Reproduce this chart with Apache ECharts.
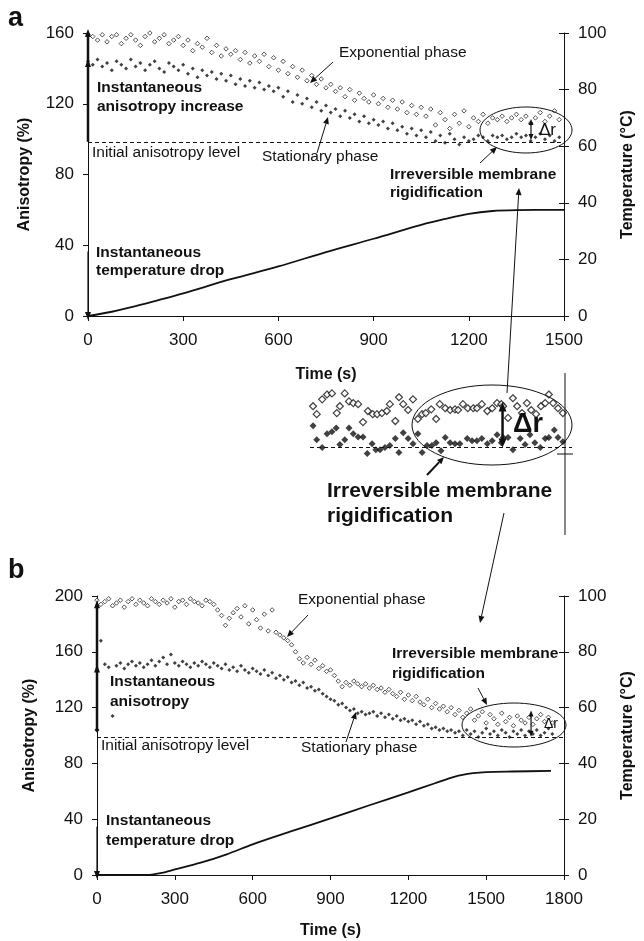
<!DOCTYPE html>
<html>
<head>
<meta charset="utf-8">
<script src="https://cdn.jsdelivr.net/npm/echarts@6/dist/echarts.min.js"></script>
<style>
  html, body { margin: 0; padding: 0; background: #fff; }
  #main { width: 644px; height: 941px; }
</style>
</head>
<body>
<div id="main"></div>
<script>
var main = echarts.init(document.getElementById('main'));
var FONT = '"Liberation Sans", Arial, sans-serif';
var INK = '#111';

// sampling of the anisotropy records (s)
var stepA = 15;
var stepB = 15;

// panel a : anisotropy (%), open = exponential phase, filled = stationary phase
var openA = [159, 158, 156, 159, 155, 158, 159, 154, 157, 159, 156, 153, 158, 160, 155, 157, 159, 154, 156, 158, 153,
	156, 150, 154, 152, 157, 149, 153, 147, 151, 148,
	150, 145, 149, 143, 147, 144, 148, 141, 146, 139,
	144, 137, 141, 135, 139, 133, 136, 131, 134, 129,
	131, 127, 129, 124, 128, 122, 126, 123, 121, 125,
	120, 123, 118, 122, 117, 121, 115, 119, 114, 118,
	113, 117, 108, 115, 111, 106, 114, 109, 116, 107,
	112, 110, 114, 109, 112, 111, 113, 110, 112, 114,
	111, 113, 109, 112, 115, 110, 113, 116, 111];
var filledA = [144, 142, 145, 141, 143, 139, 144, 142, 140, 145, 141, 143, 139, 142, 144, 140, 138, 143, 141, 139, 142,
	137, 140, 135, 139, 136, 138, 134, 137, 133, 136,
	131, 134, 130, 133, 129, 132, 128, 130, 127, 129,
	124, 127, 121, 125, 120, 123, 118, 121, 116, 119,
	115, 117, 113, 116, 112, 114, 110, 113, 109, 111,
	108, 110, 106, 109, 105, 107, 103, 106, 102, 105,
	101, 104, 99, 102, 98, 103, 100, 97, 101, 99,
	100, 102, 101, 99, 102, 101, 102, 100, 101, 103,
	101, 102, 99, 101, 103, 100, 102, 99, 101];

// panel a : temperature (°C)
var tempTimeA = [0, 75, 150, 225, 300, 450, 600, 750, 900, 1050, 1125, 1200, 1275, 1350, 1500];
var tempA = [0, 1.5, 3.5, 5.7, 8, 13, 17.5, 22.6, 27.3, 32.2, 34.3, 36.1, 37.1, 37.4, 37.5];

// panel b : anisotropy (%)
var openB = [197, 194, 196, 198, 193, 195, 197, 192, 196, 198, 194, 197, 195, 193, 198, 196, 194, 197, 195, 198,
	192, 196, 197, 194, 198, 196, 195, 193, 197, 196, 194,
	190, 186, 179, 184, 188, 191, 185, 193, 180, 190,
	183, 177, 187, 175, 190, 174, 172, 170, 168, 165,
	160, 155, 152, 156, 151, 154, 148, 150, 146, 147,
	143, 139, 135, 138, 136, 139, 137, 135, 137, 134,
	136, 133, 134, 131, 133, 130, 128, 131, 126, 129,
	125, 128, 124, 122, 126, 120, 123, 119, 121, 117,
	120, 115, 118, 113, 116, 119, 111, 114, 117, 109,
	115, 112, 108, 116, 110, 113, 107, 114, 111, 109,
	113, 108, 112, 115, 110, 113, 109];
var filledBStart = 15;
var filledB = [168, 151, 149, 114, 150, 152, 148, 151, 153, 150, 152, 149, 151, 154, 150, 153, 156, 151, 158, 152,
	150, 153, 151, 149, 152, 150, 153, 151, 149, 152,
	150, 148, 151, 147, 149, 146, 150, 147, 145, 148,
	146, 144, 147, 143, 145, 141, 143, 140, 142, 138,
	139, 136, 138, 134, 135, 132, 133, 130, 128, 126,
	125, 122, 123, 120, 118, 119, 116, 117, 115, 116,
	117, 114, 116, 113, 115, 112, 114, 111, 112, 110,
	111, 108, 110, 107, 108, 105, 106, 104, 105, 103,
	104, 102, 103, 100, 104, 101, 103, 99, 102, 105,
	101, 103, 100, 104, 102, 99, 103, 101, 104, 100,
	103, 101, 104, 100, 102, 105, 101];

// panel b : temperature (°C)
var tempTimeB = [0, 100, 190, 250, 300, 400, 500, 600, 750, 900, 1050, 1200, 1300, 1380, 1450, 1500, 1600, 1750];
var tempB = [0, 0, 0, 0.8, 2, 4.4, 7.4, 11, 15.7, 20.3, 25, 29.6, 32.8, 35.3, 36.5, 36.9, 37.1, 37.3];

// enlarged detail of the rigidification zone
var insetOpenT = [1075, 1081, 1090, 1098, 1106, 1114, 1119, 1127, 1134, 1141, 1149, 1157, 1165, 1173, 1180, 1188, 1196, 1201, 1210, 1216,
	1223, 1231, 1239, 1247, 1254, 1260, 1269, 1277, 1283, 1292, 1300, 1308, 1313, 1321, 1329, 1338, 1344, 1352, 1361, 1369,
	1377, 1384, 1387, 1395, 1403, 1410, 1418, 1426, 1433, 1441, 1449, 1456, 1462, 1469, 1477, 1485];
var insetOpen = [111, 108.7, 113, 114.4, 114.7, 109, 111, 114.7, 112.4, 111.9, 111.6, 106.4, 109.6, 108.7, 108.7, 109, 109.6, 111.6, 106.7, 113.6,
	111.6, 109.9, 113, 107.3, 108.7, 109, 110.1, 107.3, 111.6, 110.4, 109.9, 110.1, 109.9, 111.6, 110.4, 110.4, 110.4, 111.6, 109.6, 110.4,
	111.9, 111.6, 111, 107.6, 113.3, 111, 109, 111.9, 109.9, 108.7, 111, 111.9, 114.4, 111.9, 110.4, 109];
var insetFilledT = [1075, 1081, 1090, 1098, 1106, 1113, 1119, 1127, 1134, 1141, 1149, 1157, 1164, 1172, 1178, 1185, 1193, 1201, 1210, 1216,
	1223, 1231, 1239, 1247, 1254, 1262, 1270, 1277, 1285, 1292, 1300, 1308, 1316, 1328, 1336, 1344, 1352, 1361, 1369, 1377,
	1384, 1387, 1395, 1403, 1415, 1423, 1431, 1439, 1448, 1456, 1462, 1471, 1477, 1485];
var insetFilled = [105.3, 101.3, 99, 103, 103.6, 104.7, 99.9, 101.3, 104.7, 103, 102.1, 102.1, 97.3, 100.1, 98.4, 98.4, 99, 99.6, 101.6, 97.6,
	103.3, 101.6, 100.1, 103, 97.6, 99.6, 99.6, 100.4, 98.1, 101.9, 100.4, 100.1, 100.1, 101.6, 101, 101, 101.6, 100.1, 101, 102.7,
	100.4, 101.9, 101.9, 98.4, 101.6, 99.9, 102.7, 100.4, 99, 101.6, 101.9, 104.1, 101.9, 100.7];

var levelA = 98.5;
var levelB = 99;
var levelInset = 99;

function series(start, step, vals) {
	return vals.map(function (v, i) { return [start + i * step, v]; });
}
function zip(xs, ys) {
	return xs.map(function (x, i) { return [x, ys[i]]; });
}

var openStyle = { color: '#fff', borderColor: INK, borderWidth: 0.9 };
var fillStyle = { color: INK };
var dashed = function (y) {
	return {
		silent: true, symbol: 'none', label: { show: false },
		lineStyle: { type: [4, 3], color: INK, width: 1 },
		data: [{ yAxis: y }]
	};
};

// vertical arrow drawn with symbols on a line series
function arrowLine(xi, yi, pts, width) {
	return {
		type: 'line', xAxisIndex: xi, yAxisIndex: yi, symbol: 'none',
		lineStyle: { color: INK, width: width }, itemStyle: { color: INK },
		data: pts, z: 5
	};
}
function head(p, rot, size) {
	return { value: p, symbol: 'triangle', symbolRotate: rot || 0, symbolSize: size || [6, 8] };
}

var plain = function (v) { return String(v); };

function xAx(grid, max, gap) {
	return {
		gridIndex: grid, type: 'value', min: 0, max: max, interval: 300,
		axisLine: { onZero: false, lineStyle: { color: INK, width: 1 } },
		axisTick: { length: 5, lineStyle: { color: INK } },
		axisLabel: { fontSize: 17, color: INK, margin: 16, fontFamily: FONT, formatter: plain },
		splitLine: { show: false },
		name: 'Time (s)', nameLocation: 'middle', nameGap: gap,
		nameTextStyle: { fontWeight: 'bold', fontSize: 16, color: INK, fontFamily: FONT }
	};
}
function yAx(grid, pos, max, interval, name, gap) {
	return {
		gridIndex: grid, type: 'value', position: pos, min: 0, max: max, interval: interval,
		axisLine: { show: true, lineStyle: { color: INK, width: 1 } },
		axisTick: { show: true, length: 5, lineStyle: { color: INK } },
		axisLabel: { fontSize: 17, color: INK, margin: 14, fontFamily: FONT, formatter: plain },
		splitLine: { show: false },
		name: name, nameLocation: 'middle', nameRotate: 90, nameGap: gap,
		nameTextStyle: { fontWeight: 'bold', fontSize: 16, color: INK, fontFamily: FONT }
	};
}
function yInner(grid) {
	return {
		gridIndex: grid, type: 'value', position: 'right', min: 0, max: 100, interval: 20,
		axisLine: { show: false }, axisLabel: { show: false }, splitLine: { show: false },
		axisTick: { show: true, inside: true, length: 5, lineStyle: { color: INK } }
	};
}

// annotation helpers (pixel positions)
function arrow(x1, y1, x2, y2, w) {
	var ang = Math.atan2(y2 - y1, x2 - x1), len = 7, half = 3;
	var bx = x2 - len * Math.cos(ang), by = y2 - len * Math.sin(ang);
	var px = -Math.sin(ang) * half, py = Math.cos(ang) * half;
	return [
		{ type: 'line', z: 100, shape: { x1: x1, y1: y1, x2: bx, y2: by }, style: { stroke: INK, lineWidth: w || 1 } },
		{ type: 'polygon', z: 100, shape: { points: [[x2, y2], [bx + px, by + py], [bx - px, by - py]] }, style: { fill: INK } }
	];
}
function txt(x, y, s, font, lh) {
	return {
		type: 'text', z: 100, x: x, y: y,
		style: { text: s, font: font + ' ' + FONT, fill: INK, align: 'left', verticalAlign: 'middle', lineHeight: lh || 18 }
	};
}
function ell(cx, cy, rx, ry) {
	return { type: 'ellipse', z: 100, shape: { cx: cx, cy: cy, rx: rx, ry: ry }, style: { fill: 'none', stroke: INK, lineWidth: 1 } };
}

var graphics = [
	txt(8, 19, 'a', 'bold 27px'),
	txt(8, 571, 'b', 'bold 27px'),
	// panel a
	{ type: 'text', z: 100, x: 97, y: 78, style: { text: 'Instantaneous\nanisotropy increase', font: 'bold 15.5px ' + FONT, fill: INK, lineHeight: 19, verticalAlign: 'top' } },
	txt(92, 153, 'Initial anisotropy level', '15.5px'),
	txt(339, 53, 'Exponential phase', '15.5px'),
	txt(262, 157, 'Stationary phase', '15.5px'),
	{ type: 'text', z: 100, x: 390, y: 166, style: { text: 'Irreversible membrane\nrigidification', font: 'bold 15.5px ' + FONT, fill: INK, lineHeight: 18, verticalAlign: 'top' } },
	{ type: 'text', z: 100, x: 96, y: 244, style: { text: 'Instantaneous\ntemperature drop', font: 'bold 15.5px ' + FONT, fill: INK, lineHeight: 18, verticalAlign: 'top' } },
	txt(539, 130, 'Δr', '17px'),
	ell(526, 130, 46, 23),
	// inset
	txt(513, 425, 'Δr', 'bold 27px'),
	ell(492, 425, 80, 40),
	{ type: 'text', z: 100, x: 327, y: 479, style: { text: 'Irreversible membrane\nrigidification', font: 'bold 21px ' + FONT, fill: INK, lineHeight: 25, verticalAlign: 'top' } },
	{ type: 'line', z: 100, shape: { x1: 565, y1: 373, x2: 565, y2: 535 }, style: { stroke: INK, lineWidth: 1 } },
	{ type: 'line', z: 100, shape: { x1: 557, y1: 454, x2: 573, y2: 454 }, style: { stroke: INK, lineWidth: 1 } },
	// panel b
	txt(298, 600, 'Exponential phase', '15.5px'),
	{ type: 'text', z: 100, x: 110, y: 672, style: { text: 'Instantaneous\nanisotropy', font: 'bold 15.5px ' + FONT, fill: INK, lineHeight: 20, verticalAlign: 'top' } },
	txt(101, 746, 'Initial anisotropy level', '15.5px'),
	txt(301, 748, 'Stationary phase', '15.5px'),
	{ type: 'text', z: 100, x: 392, y: 644, style: { text: 'Irreversible membrane\nrigidification', font: 'bold 15.5px ' + FONT, fill: INK, lineHeight: 20, verticalAlign: 'top' } },
	{ type: 'text', z: 100, x: 106, y: 811, style: { text: 'Instantaneous\ntemperature drop', font: 'bold 15.5px ' + FONT, fill: INK, lineHeight: 20, verticalAlign: 'top' } },
	txt(544, 724, 'Δr', '14px'),
	ell(514, 725, 52, 22)
];
graphics = graphics
	.concat(arrow(333, 62, 310, 83))
	.concat(arrow(317, 153, 328, 117))
	.concat(arrow(480, 163, 497, 147))
	.concat(arrow(507, 393, 519, 188))
	.concat(arrow(504, 513, 480, 623))
	.concat(arrow(427, 475, 444, 457, 2))
	.concat(arrow(308, 615, 287, 637))
	.concat(arrow(346, 742, 356, 712))
	.concat(arrow(478, 688, 487, 705));

option = {
	animation: false,
	backgroundColor: '#fff',
	textStyle: { fontFamily: FONT },
	grid: [
		{ left: 88, top: 33, width: 476, height: 283 },
		{ left: 97, top: 596, width: 473, height: 279 },
		{ left: 310, top: 370, width: 262, height: 100 }
	],
	xAxis: [
		xAx(0, 1500, 51),
		xAx(1, 1800, 48),
		{ gridIndex: 2, type: 'value', min: 1070, max: 1500, show: false }
	],
	yAxis: [
		yAx(0, 'left', 160, 40, 'Anisotropy (%)', 55),
		yAx(0, 'right', 100, 20, 'Temperature (°C)', 56),
		yInner(0),
		yAx(1, 'left', 200, 40, 'Anisotropy (%)', 59),
		yAx(1, 'right', 100, 20, 'Temperature (°C)', 56),
		yInner(1),
		{ gridIndex: 2, type: 'value', min: 92.5, max: 121.5, show: false }
	],
	graphic: graphics,
	series: [
		{ type: 'scatter', xAxisIndex: 0, yAxisIndex: 0, symbol: 'diamond', symbolSize: 4.5, itemStyle: openStyle, data: series(0, stepA, openA) },
		{ type: 'scatter', xAxisIndex: 0, yAxisIndex: 0, symbol: 'diamond', symbolSize: 4, itemStyle: fillStyle, data: series(0, stepA, filledA), markLine: dashed(levelA) },
		{ type: 'line', xAxisIndex: 0, yAxisIndex: 1, smooth: 0.3, symbol: 'none', lineStyle: { color: INK, width: 1.8 }, data: zip(tempTimeA, tempA) },
		arrowLine(0, 0, [[0, levelA], head([0, 143]), head([0, 160])], 2.5),
		arrowLine(0, 0, [[0, 36.5], head([0, 0], 180)], 1.2),
		arrowLine(0, 0, [head([1396, 109.7], 0, [5, 6]), head([1396, 101.2], 180, [5, 6])], 1.2),

		{ type: 'scatter', xAxisIndex: 1, yAxisIndex: 3, symbol: 'diamond', symbolSize: 4.5, itemStyle: openStyle, data: series(0, stepB, openB) },
		{ type: 'scatter', xAxisIndex: 1, yAxisIndex: 3, symbol: 'diamond', symbolSize: 4, itemStyle: fillStyle, data: series(filledBStart, stepB, filledB), markLine: dashed(levelB) },
		{ type: 'line', xAxisIndex: 1, yAxisIndex: 4, smooth: 0.3, symbol: 'none', lineStyle: { color: INK, width: 1.8 }, data: zip(tempTimeB, tempB) },
		arrowLine(1, 3, [{ value: [0, 104], symbol: 'diamond', symbolSize: 5 }, head([0, 148]), head([0, 194])], 2.5),
		arrowLine(1, 3, [[0, 34.5], head([0, 0], 180)], 1.2),
		arrowLine(1, 3, [head([1673, 115.7], 0, [5, 6]), head([1673, 101.3], 180, [5, 6])], 1.2),

		{ type: 'scatter', xAxisIndex: 2, yAxisIndex: 6, symbol: 'diamond', symbolSize: 7, itemStyle: { color: '#fff', borderColor: INK, borderWidth: 1.2 }, data: zip(insetOpenT, insetOpen) },
		{ type: 'scatter', xAxisIndex: 2, yAxisIndex: 6, symbol: 'diamond', symbolSize: 7, itemStyle: fillStyle, data: zip(insetFilledT, insetFilled), markLine: dashed(levelInset) },
		arrowLine(2, 6, [head([1386, 110.8], 0, [8, 9]), head([1386, 100.3], 180, [8, 9])], 2.5)
	]
};
main.setOption(option);
</script>
</body>
</html>
